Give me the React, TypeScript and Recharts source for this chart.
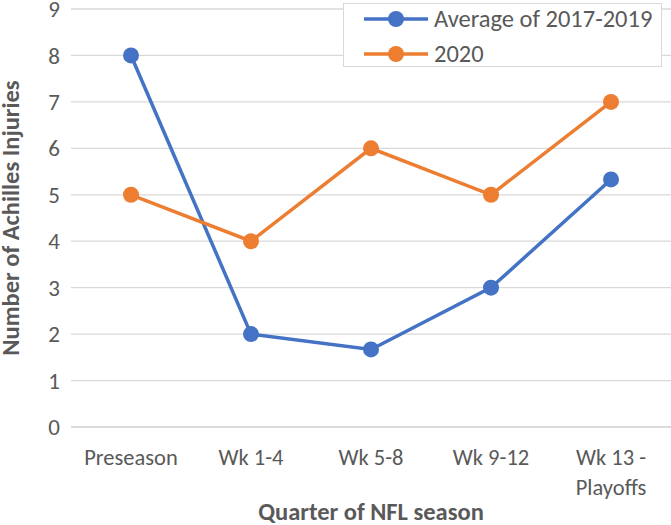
import React from 'react';
import { LineChart, Line, XAxis, YAxis, CartesianGrid, Legend, Label } from 'recharts';

const categories = ['Preseason', 'Wk 1-4', 'Wk 5-8', 'Wk 9-12', 'Wk 13 - Playoffs'];
const average2017to2019 = [8, 2, 1.67, 3, 5.33];
const season2020 = [5, 4, 6, 5, 7];
const yTicks = [0, 1, 2, 3, 4, 5, 6, 7, 8, 9];

const seriesInfo = [
  { key: 'avg', name: 'Average of 2017-2019', color: '#4472C4' },
  { key: 's2020', name: '2020', color: '#ED7D31' },
];

const data = categories.map((name, i) => ({
  name,
  avg: average2017to2019[i],
  s2020: season2020[i],
}));

const FONT = 'Carlito, Lato, "Open Sans", sans-serif';
const TEXT = '#595959';
const GRID = '#D9D9D9';

// greedy word wrap, like excel does for long category names
function wrapLabel(label: string, maxChars: number) {
  const words = label.split(' ');
  const lines: string[] = [];
  let cur = '';
  words.forEach((w) => {
    const next = cur ? cur + ' ' + w : w;
    if (next.length > maxChars && cur) {
      lines.push(cur);
      cur = w;
    } else {
      cur = next;
    }
  });
  if (cur) lines.push(cur);
  return lines;
}

const CategoryTick = (props: any) => {
  const { x, y, payload } = props;
  const lines = wrapLabel(String(payload.value), 9);
  return (
    <text x={x} y={y} textAnchor="middle" fill={TEXT} fontSize={22.5} fontFamily={FONT}>
      {lines.map((l, i) => (
        <tspan key={i} x={x} dy={i === 0 ? 38 : 30}>
          {l}
        </tspan>
      ))}
    </text>
  );
};

const LegendBox = () => (
  <div
    style={{
      border: `1px solid ${GRID}`,
      background: '#fff',
      height: 64,
      boxSizing: 'border-box',
      fontFamily: FONT,
      fontSize: 24.5,
      color: TEXT,
      position: 'relative',
    }}
  >
    {seriesInfo.map((s, i) => (
      <div
        key={s.key}
        style={{ position: 'absolute', left: 19, top: i === 0 ? 1 : 36, height: 28, display: 'flex', alignItems: 'center' }}
      >
        <svg width={66} height={20} style={{ display: 'block' }}>
          <line x1={1} y1={10} x2={65} y2={10} stroke={s.color} strokeWidth={3.5} />
          <circle cx={33} cy={10} r={8} fill={s.color} />
        </svg>
        <span style={{ marginLeft: 5, lineHeight: '28px' }}>{s.name}</span>
      </div>
    ))}
  </div>
);

export default function App() {
  return (
    <div style={{ position: 'absolute', left: 0, top: 0, width: 671, height: 525, background: '#fff' }}>
      <LineChart width={671} height={525} data={data} margin={{ top: 9, right: 0, left: 0, bottom: 0 }}>
        <CartesianGrid vertical={false} stroke={GRID} strokeWidth={1.3} />
        <XAxis
          dataKey="name"
          padding={{ left: 60, right: 60 }}
          height={98}
          tickLine={false}
          tickSize={0}
          tickMargin={0}
          axisLine={{ stroke: GRID, strokeWidth: 1.6 }}
          tick={<CategoryTick />}
          interval={0}
        >
          <Label
            content={(p: any) => {
              const vb = p.viewBox || { x: 71, width: 600, y: 427 };
              return (
                <text
                  x={vb.x + vb.width / 2}
                  y={vb.y + 93}
                  textAnchor="middle"
                  fill={TEXT}
                  fontSize={24.5}
                  fontWeight="bold"
                  fontFamily={FONT}
                >
                  Quarter of NFL season
                </text>
              );
            }}
          />
        </XAxis>
        <YAxis
          width={71}
          domain={[0, 9]}
          ticks={yTicks}
          interval={0}
          axisLine={false}
          tickLine={false}
          tickSize={0}
          tickMargin={11}
          tick={{ fill: TEXT, fontSize: 23, fontFamily: FONT }}
        >
          <Label
            content={(p: any) => {
              const vb = p.viewBox || { y: 9, height: 418 };
              const cy = vb.y + vb.height / 2;
              return (
                <text
                  x={11}
                  y={cy}
                  transform={`rotate(-90 11 ${cy})`}
                  textAnchor="middle"
                  dominantBaseline="central"
                  fill={TEXT}
                  fontSize={24.5}
                  fontWeight="bold"
                  fontFamily={FONT}
                >
                  Number of Achilles Injuries
                </text>
              );
            }}
          />
        </YAxis>
        <Legend
          layout="horizontal"
          verticalAlign="middle"
          align="center"
          content={<LegendBox />}
          wrapperStyle={{ top: 3, left: 343, width: 319 }}
        />
        {seriesInfo.map((s) => (
          <Line
            key={s.key}
            dataKey={s.key}
            name={s.name}
            stroke={s.color}
            strokeWidth={3.5}
            dot={{ r: 8, fill: s.color, stroke: 'none' }}
            activeDot={false}
            isAnimationActive={false}
          />
        ))}
      </LineChart>
    </div>
  );
}
